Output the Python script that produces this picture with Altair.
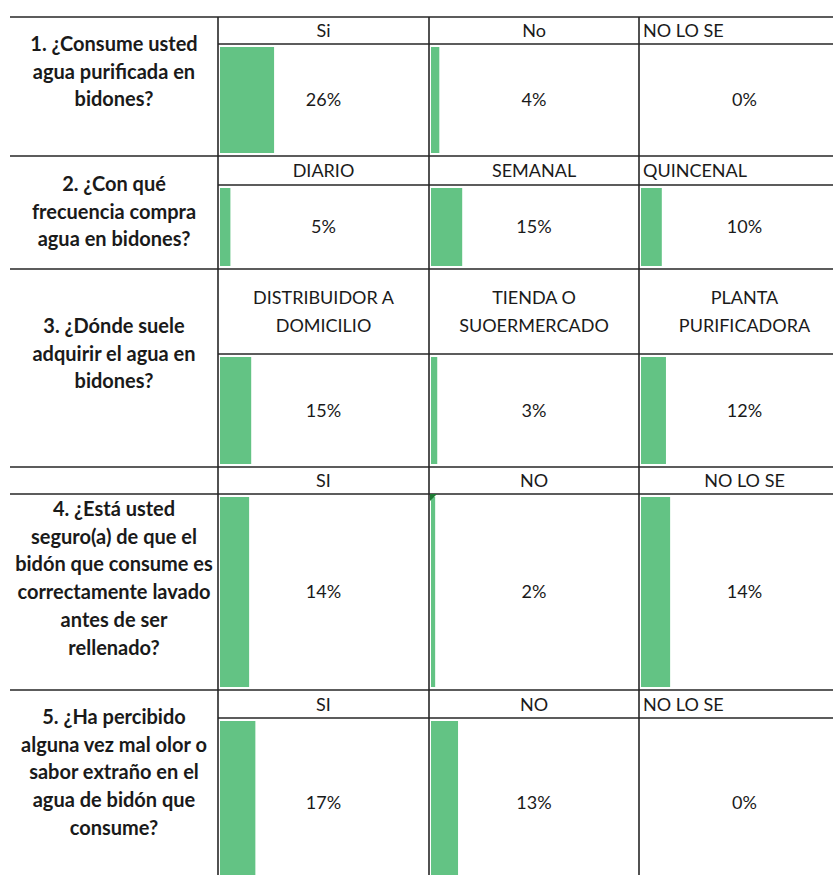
import altair as alt
import pandas as pd

# ---------------- data ----------------
questions = [
    ["1. ¿Consume usted", "agua purificada en", "bidones?"],
    ["2. ¿Con qué", "frecuencia compra", "agua en bidones?"],
    ["3. ¿Dónde suele", "adquirir el agua en", "bidones?"],
    ["4. ¿Está usted", "seguro(a) de que el", "bidón que consume es",
     "correctamente lavado", "antes de ser", "rellenado?"],
    ["5. ¿Ha percibido", "alguna vez mal olor o", "sabor extraño en el",
     "agua de bidón que", "consume?"],
]
options = [
    [["Si"], ["No"], ["NO LO SE"]],
    [["DIARIO"], ["SEMANAL"], ["QUINCENAL"]],
    [["DISTRIBUIDOR A", "DOMICILIO"], ["TIENDA O", "SUOERMERCADO"], ["PLANTA", "PURIFICADORA"]],
    [["SI"], ["NO"], ["NO LO SE"]],
    [["SI"], ["NO"], ["NO LO SE"]],
]
values = [
    [26, 4, 0],
    [5, 15, 10],
    [15, 3, 12],
    [14, 2, 14],
    [17, 13, 0],
]

# ---------------- layout / style ----------------
W, H = 833, 875
K = 2.08                       # pixels per percentage point (data-bar scale)
X_LEFT = 10
COL_X = [218, 429, 639, 850]
BLOCK_TOP = [17, 156, 269, 467, 690]
HEAD_BOT = [44, 185, 354, 494, 718]
BLOCK_BOT = [156, 269, 467, 690, 888]
HEAD_LINE_FROM = [218, 218, 218, 10, 218]
Q_FIRST_LINE = [45, 185, 327, 510, 718]
LINE_H = 27.7
HEAD_ALIGN = [["center", "center", "left"],
              ["center", "center", "left"],
              ["center", "center", "center"],
              ["center", "center", "center"],
              ["center", "center", "left"]]
FONT = "Lato"
FS = 18
QFS = 20
BAR_COLOR = "#63C384"
LINE_COLOR = "#262626"
TEXT_COLOR = "#1a1a1a"

u = lambda px: px / K  # pixel -> x-scale units

# bars
bar_rows = []
for q in range(5):
    for c in range(3):
        bar_rows.append(dict(x0=u(COL_X[c] + 2), value=values[q][c],
                             y0=HEAD_BOT[q] + 3, y1=BLOCK_BOT[q] - 3))
bars_df = pd.DataFrame(bar_rows)

# grid lines
lines = []
for q in range(5):
    lines.append(dict(x=u(X_LEFT), x2=u(W), y=BLOCK_TOP[q], y2=BLOCK_TOP[q]))
    lines.append(dict(x=u(HEAD_LINE_FROM[q]), x2=u(W), y=HEAD_BOT[q], y2=HEAD_BOT[q]))
for cx in COL_X[:3]:
    lines.append(dict(x=u(cx), x2=u(cx), y=BLOCK_TOP[0], y2=H + 20))
lines_df = pd.DataFrame(lines)

# question text
qrows = []
for q, qlines in enumerate(questions):
    for i, t in enumerate(qlines):
        qrows.append(dict(x=u((X_LEFT + COL_X[0]) / 2), y=Q_FIRST_LINE[q] + i * LINE_H, t=t))
q_df = pd.DataFrame(qrows)

# header text
hrows = []
for q in range(5):
    for c in range(3):
        ol = options[q][c]
        n = len(ol)
        cy = (BLOCK_TOP[q] + HEAD_BOT[q]) / 2 + 1.5
        for i, t in enumerate(ol):
            al = HEAD_ALIGN[q][c]
            xx = (COL_X[c] + COL_X[c + 1]) / 2 if al == "center" else COL_X[c] + 4
            hrows.append(dict(x=u(xx), y=cy + (i - (n - 1) / 2) * LINE_H, t=t, al=al))
h_df = pd.DataFrame(hrows)

# value labels
vrows = []
for q in range(5):
    for c in range(3):
        vrows.append(dict(x=u((COL_X[c] + COL_X[c + 1]) / 2),
                          y=(HEAD_BOT[q] + BLOCK_BOT[q]) / 2 + 1,
                          v=values[q][c] / 100))
v_df = pd.DataFrame(vrows)

# Excel green indicator triangle (Q4, "NO" cell)
tri_df = pd.DataFrame([dict(x=u(COL_X[1] + 4.5), y=HEAD_BOT[3] + 3.5)])

xs = alt.Scale(domain=[0, W / K])
ys = alt.Scale(domain=[0, H], reverse=True)

bars = alt.Chart(bars_df).transform_calculate(
    x1="datum.x0 + datum.value"
).mark_rect(color=BAR_COLOR, clip=True).encode(
    x=alt.X("x0:Q", scale=xs, axis=None),
    x2="x1:Q",
    y=alt.Y("y0:Q", scale=ys, axis=None),
    y2="y1:Q",
)

rules = alt.Chart(lines_df).mark_rule(color=LINE_COLOR, strokeWidth=1.6, clip=True).encode(
    x=alt.X("x:Q", scale=xs, axis=None), x2="x2:Q",
    y=alt.Y("y:Q", scale=ys, axis=None), y2="y2:Q",
)

qtext = alt.Chart(q_df).mark_text(font=FONT, fontSize=QFS, fontWeight="bold",
                                  color=TEXT_COLOR, align="center", baseline="middle").encode(
    x=alt.X("x:Q", scale=xs, axis=None), y=alt.Y("y:Q", scale=ys, axis=None), text="t:N")

htext_c = alt.Chart(h_df).transform_filter("datum.al == 'center'").mark_text(
    font=FONT, fontSize=FS, color=TEXT_COLOR, align="center", baseline="middle").encode(
    x=alt.X("x:Q", scale=xs, axis=None), y=alt.Y("y:Q", scale=ys, axis=None), text="t:N")

htext_l = alt.Chart(h_df).transform_filter("datum.al == 'left'").mark_text(
    font=FONT, fontSize=FS, color=TEXT_COLOR, align="left", baseline="middle").encode(
    x=alt.X("x:Q", scale=xs, axis=None), y=alt.Y("y:Q", scale=ys, axis=None), text="t:N")

vtext = alt.Chart(v_df).mark_text(font=FONT, fontSize=FS, color=TEXT_COLOR,
                                  align="center", baseline="middle").encode(
    x=alt.X("x:Q", scale=xs, axis=None), y=alt.Y("y:Q", scale=ys, axis=None),
    text=alt.Text("v:Q", format=".0%"))

tri = alt.Chart(tri_df).mark_point(shape="M-1,-1L1,-1L-1,1Z", filled=True, size=49,
                                   color="#1E7B34", opacity=1).encode(
    x=alt.X("x:Q", scale=xs, axis=None), y=alt.Y("y:Q", scale=ys, axis=None))

chart = alt.layer(bars, rules, qtext, htext_c, htext_l, vtext, tri).properties(
    width=W, height=H, padding=0,
    autosize=alt.AutoSizeParams(type="fit", contains="padding"),
    background="white",
).configure_view(stroke=None)

chart.save("out.html", embed_options={"renderer": "svg", "actions": False})
